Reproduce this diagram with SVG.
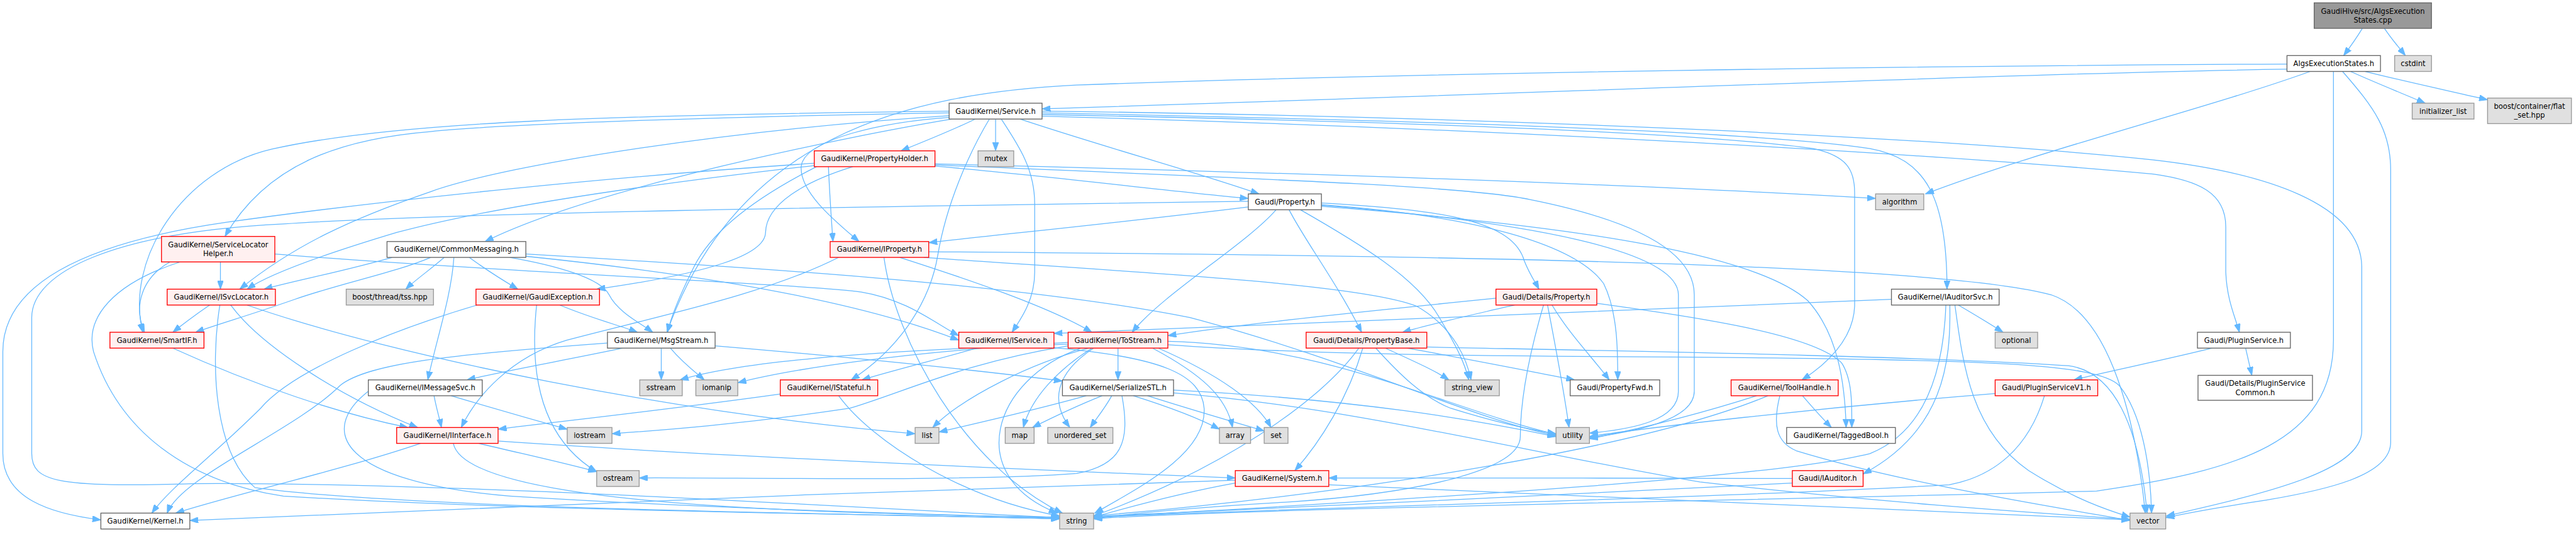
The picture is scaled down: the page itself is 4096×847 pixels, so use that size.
<svg xmlns="http://www.w3.org/2000/svg" width="4096" height="847" viewBox="0 0 4096 847">
<defs>
<style>
.r{fill:#fff0f0;stroke:#ff0000;stroke-width:1.5}
.w{fill:#ffffff;stroke:#666666;stroke-width:1.5}
.g{fill:#e0e0e0;stroke:#999999;stroke-width:1.5}
.m{fill:#999999;stroke:#666666;stroke-width:1.5}
text{font-family:"DejaVu Sans","Liberation Sans",sans-serif;font-size:12.8px;text-anchor:middle;fill:#000000}
#edges path{fill:none;stroke:#63b8ff;stroke-width:1.4;marker-end:url(#arr)}
</style>
<marker id="arr" markerUnits="userSpaceOnUse" markerWidth="16" markerHeight="11" refX="15" refY="5.5" orient="auto">
<path d="M0,0 L15,5.5 L0,11 z" fill="#63b8ff" stroke="#63b8ff" stroke-width="1"/>
</marker>
</defs>
<rect x="0" y="0" width="4096" height="847" fill="#ffffff"/>
<g transform="scale(0.901)">
<g id="edges">
<path d="M4169,50 C4158,68 4148,82 4136,98"/>
<path d="M4208,50 C4220,68 4232,82 4245,98"/>
<path d="M4036,122 C3600,128 2700,165 1839,192"/>
<path d="M4036,113 C3400,116 2500,128 1900,150 C1600,165 1300,240 1177,586"/>
<path d="M4077,126 C3900,190 3600,265 3398,342"/>
<path d="M4148,126 C4190,145 4240,165 4280,182"/>
<path d="M4174,126 C4250,145 4330,162 4390,176"/>
<path d="M4118,126 L4118,600 C4118,780 3950,830 3700,866 C3000,885 2200,897 1930,915"/>
<path d="M4134,126 C4190,190 4219,230 4219,300 L4219,780 C4219,840 4100,865 4000,882 C3900,897 3860,905 3822,913"/>
<path d="M1675,199 C1300,205 900,218 760,232 C600,245 470,290 397,417"/>
<path d="M1675,196 C1100,203 700,213 480,263 C320,300 220,460 252,586"/>
<path d="M1675,204 C1300,228 900,288 760,338 C620,386 520,432 423,510"/>
<path d="M1680,210 C1500,240 1050,330 856,426"/>
<path d="M1675,207 C1560,215 1420,245 1414,293 C1410,340 1480,395 1516,426"/>
<path d="M1721,210 C1680,230 1630,250 1590,266"/>
<path d="M1757,210 L1757,266"/>
<path d="M1767,210 C1800,260 1826,300 1826,360 L1826,480 C1826,530 1800,565 1786,586"/>
<path d="M1746,210 C1710,270 1670,360 1655,450 C1640,540 1580,620 1502,670"/>
<path d="M1800,210 C1950,260 2100,300 2222,342"/>
<path d="M1839,199 C2500,212 3100,232 3300,262 C3400,280 3436,350 3436,510"/>
<path d="M1839,202 C2500,215 3000,234 3200,262 C3260,275 3273,300 3273,340 L3273,540 C3271,600 3220,645 3180,670"/>
<path d="M1839,196 C2600,205 3400,240 3800,282 C4000,305 4166,360 4168,470 L4168,760 C4168,830 4000,870 3823,910"/>
<path d="M1839,205 C2600,225 3400,270 3800,307 C3880,318 3928,340 3928,400 L3928,480 C3930,530 3945,560 3952,586"/>
<path d="M1462,294 C1464,340 1467,385 1470,426"/>
<path d="M1650,293 C1850,310 2050,336 2203,350"/>
<path d="M1650,289 C2300,305 2900,326 3310,350"/>
<path d="M1437,288 C1100,310 700,350 400,392 C150,428 5,500 5,620 L5,800 C5,880 90,906 178,917"/>
<path d="M1437,292 C1100,330 850,370 700,410 C600,440 480,480 436,510"/>
<path d="M1441,294 C1350,340 1260,400 1225,470 C1200,520 1185,555 1178,586"/>
<path d="M1505,294 C1420,320 1352,360 1351,410 C1350,450 1250,482 1053,510"/>
<path d="M1650,291 C2300,318 2600,330 2700,352 C2900,392 2990,450 2990,520 L2990,690 C2990,742 2880,762 2805,772"/>
<path d="M389,462 L389,510"/>
<path d="M300,462 C250,490 235,540 255,586"/>
<path d="M485,448 C800,475 1400,500 1520,515 C1600,528 1650,570 1692,592"/>
<path d="M318,462 C200,500 150,560 165,620 C210,760 330,850 500,875 C900,900 1500,906 1870,915"/>
<path d="M784,454 C760,475 735,492 716,510"/>
<path d="M692,454 C600,480 520,495 466,510"/>
<path d="M828,454 C850,470 880,490 914,510"/>
<path d="M801,454 C797,520 770,600 755,670"/>
<path d="M900,454 C980,468 1060,490 1075,520 C1090,550 1130,570 1152,586"/>
<path d="M760,454 C700,480 600,500 520,528 C440,556 390,570 345,586"/>
<path d="M928,448 C1300,470 1800,500 2100,560 C2400,640 2600,740 2746,768"/>
<path d="M928,452 C1200,480 1500,525 1692,600"/>
<path d="M1588,454 C1700,490 1850,540 1927,586"/>
<path d="M1630,454 C2000,480 2400,500 2500,540 C2570,580 2590,640 2596,670"/>
<path d="M1639,444 C2400,450 3400,460 3620,520 C3740,560 3775,800 3786,905"/>
<path d="M1480,454 C1350,520 1150,560 1000,600 C900,630 840,700 814,754"/>
<path d="M1560,454 C1580,600 1700,820 1875,905"/>
<path d="M2332,358 C2550,370 2670,390 2690,460 C2700,485 2708,495 2716,510"/>
<path d="M2275,370 C2300,420 2360,500 2403,586"/>
<path d="M2295,370 C2400,430 2500,490 2540,560 C2570,610 2585,640 2592,670"/>
<path d="M2332,361 C2600,380 2780,430 2830,500 C2855,550 2855,620 2855,670"/>
<path d="M2332,362 C2700,392 2962,442 2962,520 L2962,690 C2962,742 2880,757 2805,764"/>
<path d="M2332,364 C2800,400 3100,450 3190,530 C3245,590 3256,680 3258,754"/>
<path d="M2252,370 C2200,430 2050,520 1998,586"/>
<path d="M2203,365 C2000,390 1800,410 1639,428"/>
<path d="M2203,355 C1500,365 800,375 500,395 C200,410 56,480 56,560 L56,800 C56,850 100,860 340,853 C800,850 1500,895 1870,913"/>
<path d="M2673,538 C2600,555 2530,570 2475,586"/>
<path d="M2724,538 C2700,620 2683,700 2683,770 C2683,830 2500,870 2280,885 C2100,895 2000,905 1930,915"/>
<path d="M2731,538 C2745,610 2760,690 2769,754"/>
<path d="M2739,538 C2770,590 2810,630 2840,670"/>
<path d="M2640,526 C2450,545 2200,570 2061,592"/>
<path d="M2818,535 C3000,560 3200,590 3250,640 C3270,670 3268,720 3268,754"/>
<path d="M2445,614 C2490,635 2530,652 2557,670"/>
<path d="M2428,614 C2470,660 2510,700 2560,720 C2640,745 2700,758 2746,765"/>
<path d="M2483,614 C2600,635 2700,655 2779,670"/>
<path d="M2405,614 C2380,700 2330,780 2285,830"/>
<path d="M2398,614 C2330,710 2150,830 1930,910"/>
<path d="M2518,612 C2800,618 3400,628 3650,645 C3730,655 3775,750 3789,905"/>
<path d="M3456,538 C3485,555 3510,570 3535,586"/>
<path d="M3441,538 C3443,640 3430,760 3288,836"/>
<path d="M3338,528 C2900,548 2300,568 1860,588"/>
<path d="M3434,538 C3430,650 3400,760 3300,800 C3100,850 2300,890 1930,913"/>
<path d="M3450,538 C3465,650 3480,760 3580,830 C3660,880 3720,900 3759,912"/>
<path d="M3963,614 L3974,662"/>
<path d="M3904,614 C3820,635 3720,655 3660,670"/>
<path d="M3608,698 C3580,790 3520,840 3440,855 C3000,880 2300,895 1930,912"/>
<path d="M3521,694 C3200,720 2900,755 2805,770"/>
<path d="M3181,698 C3200,720 3215,737 3232,754"/>
<path d="M3141,698 C3128,750 3135,780 3170,795 C3350,850 3600,890 3759,918"/>
<path d="M3100,698 C3000,730 2900,755 2805,774"/>
<path d="M3120,698 C2900,790 2400,870 1930,910"/>
<path d="M1099,614 C1000,635 900,652 824,670"/>
<path d="M1167,614 L1167,670"/>
<path d="M1183,614 C1205,640 1225,655 1243,670"/>
<path d="M1072,605 C800,625 650,640 600,680 C520,760 320,840 295,905"/>
<path d="M1262,610 C1500,630 1700,650 1875,672"/>
<path d="M988,538 C1040,560 1090,573 1125,586"/>
<path d="M947,538 C935,650 950,770 1053,832"/>
<path d="M842,538 C700,580 520,650 460,720 C380,800 300,860 268,905"/>
<path d="M766,698 C770,720 775,735 779,754"/>
<path d="M796,698 C870,720 940,740 1001,757"/>
<path d="M650,690 C560,760 600,850 900,875 C1300,900 1700,908 1870,914"/>
<path d="M1377,695 C1200,720 1000,742 879,757"/>
<path d="M1480,698 C1540,780 1700,880 1870,910"/>
<path d="M1724,614 C1650,635 1570,655 1521,670"/>
<path d="M1859,613 C2050,630 2120,660 2125,720 C2130,800 2010,860 1932,905"/>
<path d="M1973,614 L1973,670"/>
<path d="M1922,614 C1820,640 1700,700 1646,754"/>
<path d="M1927,614 C1870,650 1820,700 1806,754"/>
<path d="M1930,614 C1860,660 1855,710 1888,754"/>
<path d="M2034,614 C2120,660 2165,700 2175,754"/>
<path d="M2044,614 C2150,660 2220,710 2243,754"/>
<path d="M1908,614 C1750,670 1700,840 1866,905"/>
<path d="M1885,604 C1600,620 1400,650 1302,675"/>
<path d="M1885,610 C1700,640 1600,690 1500,720 C1300,750 1150,760 1080,765"/>
<path d="M1885,607 C1500,620 1300,640 1200,670"/>
<path d="M2061,602 C2350,610 2550,720 2746,766"/>
<path d="M2061,608 C2300,625 2600,628 3000,630 C3500,635 3700,640 3740,680 C3780,730 3795,820 3797,905"/>
<path d="M1917,698 C1820,725 1730,745 1657,762"/>
<path d="M1945,698 C1890,720 1850,740 1822,754"/>
<path d="M1962,698 C1950,720 1935,738 1924,754"/>
<path d="M1980,698 C1995,780 1980,820 1900,835 C1700,850 1300,842 1128,843"/>
<path d="M2000,698 C2070,720 2120,740 2152,757"/>
<path d="M2025,698 C2110,725 2190,748 2231,760"/>
<path d="M2071,693 C2400,720 2700,800 3000,850 C3300,885 3600,905 3759,916"/>
<path d="M2071,688 C2400,705 2600,740 2746,770"/>
<path d="M845,782 C920,800 990,815 1053,832"/>
<path d="M742,782 C600,830 420,870 310,905"/>
<path d="M879,778 C1200,800 1600,820 2180,843"/>
<path d="M800,782 C820,880 1300,905 1870,912"/>
<path d="M305,614 C450,680 600,730 720,754"/>
<path d="M370,538 C345,555 325,570 305,586"/>
<path d="M407,538 C460,610 600,700 737,754"/>
<path d="M436,538 C700,630 1200,730 1615,765"/>
<path d="M388,538 C370,650 380,800 450,860 C700,895 1400,905 1870,915"/>
<path d="M2180,852 C2080,870 1990,895 1930,912"/>
<path d="M2180,847 C1600,865 800,895 335,918"/>
<path d="M2345,855 C2900,880 3500,905 3759,917"/>
<path d="M3163,844 C2900,843 2600,843 2345,843"/>
<path d="M3163,852 C2800,870 2300,895 1930,911"/>
</g>
<g id="n-cpp"><rect class="m" x="4084" y="5" width="207" height="45"/><text x="4187.5" y="24">GaudiHive/src/AlgsExecution</text><text x="4187.5" y="40">States.cpp</text></g>
<g id="n-aesh"><rect class="w" x="4036" y="98" width="165" height="28"/><text x="4118.5" y="116.5">AlgsExecutionStates.h</text></g>
<g id="n-cstdint"><rect class="g" x="4226" y="98" width="65" height="28"/><text x="4258.5" y="116.5">cstdint</text></g>
<g id="n-svc"><rect class="w" x="1675" y="182" width="164" height="28"/><text x="1757" y="200.5">GaudiKernel/Service.h</text></g>
<g id="n-initl"><rect class="g" x="4257" y="182" width="109" height="28"/><text x="4311.5" y="200.5">initializer_list</text></g>
<g id="n-flatset"><rect class="g" x="4390" y="173" width="148" height="45"/><text x="4464" y="192">boost/container/flat</text><text x="4464" y="208">_set.hpp</text></g>
<g id="n-ph"><rect class="r" x="1437" y="266" width="213" height="28"/><text x="1543.5" y="284.5">GaudiKernel/PropertyHolder.h</text></g>
<g id="n-mutex"><rect class="g" x="1726" y="266" width="63" height="28"/><text x="1757.5" y="284.5">mutex</text></g>
<g id="n-prop"><rect class="w" x="2203" y="342" width="129" height="28"/><text x="2267.5" y="360.5">Gaudi/Property.h</text></g>
<g id="n-algo"><rect class="g" x="3310" y="342" width="85" height="28"/><text x="3352.5" y="360.5">algorithm</text></g>
<g id="n-slh"><rect class="r" x="285" y="417" width="200" height="45"/><text x="385" y="436">GaudiKernel/ServiceLocator</text><text x="385" y="452">Helper.h</text></g>
<g id="n-cm"><rect class="w" x="683" y="426" width="245" height="28"/><text x="805.5" y="444.5">GaudiKernel/CommonMessaging.h</text></g>
<g id="n-iprop"><rect class="r" x="1465" y="426" width="174" height="28"/><text x="1552" y="444.5">GaudiKernel/IProperty.h</text></g>
<g id="n-isvcloc"><rect class="r" x="295" y="510" width="191" height="28"/><text x="390.5" y="528.5">GaudiKernel/ISvcLocator.h</text></g>
<g id="n-tss"><rect class="g" x="611" y="510" width="154" height="28"/><text x="688" y="528.5">boost/thread/tss.hpp</text></g>
<g id="n-gexc"><rect class="r" x="840" y="510" width="218" height="28"/><text x="949" y="528.5">GaudiKernel/GaudiException.h</text></g>
<g id="n-dprop"><rect class="r" x="2640" y="510" width="178" height="28"/><text x="2729" y="528.5">Gaudi/Details/Property.h</text></g>
<g id="n-iasvc"><rect class="w" x="3338" y="510" width="190" height="28"/><text x="3433" y="528.5">GaudiKernel/IAuditorSvc.h</text></g>
<g id="n-smartif"><rect class="r" x="194" y="586" width="166" height="28"/><text x="277" y="604.5">GaudiKernel/SmartIF.h</text></g>
<g id="n-msg"><rect class="w" x="1072" y="586" width="190" height="28"/><text x="1167" y="604.5">GaudiKernel/MsgStream.h</text></g>
<g id="n-iservice"><rect class="r" x="1692" y="586" width="168" height="28"/><text x="1776" y="604.5">GaudiKernel/IService.h</text></g>
<g id="n-tostream"><rect class="r" x="1885" y="586" width="176" height="28"/><text x="1973" y="604.5">GaudiKernel/ToStream.h</text></g>
<g id="n-pbase"><rect class="r" x="2305" y="586" width="213" height="28"/><text x="2411.5" y="604.5">Gaudi/Details/PropertyBase.h</text></g>
<g id="n-optional"><rect class="g" x="3521" y="586" width="75" height="28"/><text x="3558.5" y="604.5">optional</text></g>
<g id="n-plugsvc"><rect class="w" x="3878" y="586" width="164" height="28"/><text x="3960" y="604.5">Gaudi/PluginService.h</text></g>
<g id="n-imsg"><rect class="w" x="650" y="670" width="201" height="28"/><text x="750.5" y="688.5">GaudiKernel/IMessageSvc.h</text></g>
<g id="n-sstream"><rect class="g" x="1129" y="670" width="75" height="28"/><text x="1166.5" y="688.5">sstream</text></g>
<g id="n-iomanip"><rect class="g" x="1228" y="670" width="74" height="28"/><text x="1265" y="688.5">iomanip</text></g>
<g id="n-istateful"><rect class="r" x="1377" y="670" width="172" height="28"/><text x="1463" y="688.5">GaudiKernel/IStateful.h</text></g>
<g id="n-sstl"><rect class="w" x="1875" y="670" width="196" height="28"/><text x="1973" y="688.5">GaudiKernel/SerializeSTL.h</text></g>
<g id="n-sview"><rect class="g" x="2550" y="670" width="96" height="28"/><text x="2598" y="688.5">string_view</text></g>
<g id="n-pfwd"><rect class="w" x="2771" y="670" width="158" height="28"/><text x="2850" y="688.5">Gaudi/PropertyFwd.h</text></g>
<g id="n-toolh"><rect class="r" x="3055" y="670" width="189" height="28"/><text x="3149.5" y="688.5">GaudiKernel/ToolHandle.h</text></g>
<g id="n-plugv1"><rect class="r" x="3521" y="670" width="181" height="28"/><text x="3611.5" y="688.5">Gaudi/PluginServiceV1.h</text></g>
<g id="n-plugcommon"><rect class="w" x="3879" y="662" width="202" height="44"/><text x="3980" y="680.5">Gaudi/Details/PluginService</text><text x="3980" y="696.5">Common.h</text></g>
<g id="n-iiface"><rect class="r" x="700" y="754" width="179" height="28"/><text x="789.5" y="772.5">GaudiKernel/IInterface.h</text></g>
<g id="n-iostream"><rect class="g" x="1001" y="754" width="79" height="28"/><text x="1040.5" y="772.5">iostream</text></g>
<g id="n-list"><rect class="g" x="1615" y="754" width="42" height="28"/><text x="1636" y="772.5">list</text></g>
<g id="n-map"><rect class="g" x="1774" y="754" width="51" height="28"/><text x="1799.5" y="772.5">map</text></g>
<g id="n-uset"><rect class="g" x="1849" y="754" width="115" height="28"/><text x="1906.5" y="772.5">unordered_set</text></g>
<g id="n-array"><rect class="g" x="2152" y="754" width="55" height="28"/><text x="2179.5" y="772.5">array</text></g>
<g id="n-set"><rect class="g" x="2231" y="754" width="42" height="28"/><text x="2252" y="772.5">set</text></g>
<g id="n-utility"><rect class="g" x="2746" y="754" width="59" height="28"/><text x="2775.5" y="772.5">utility</text></g>
<g id="n-tbool"><rect class="w" x="3153" y="754" width="192" height="28"/><text x="3249" y="772.5">GaudiKernel/TaggedBool.h</text></g>
<g id="n-ostream"><rect class="g" x="1053" y="830" width="75" height="28"/><text x="1090.5" y="848.5">ostream</text></g>
<g id="n-system"><rect class="r" x="2180" y="830" width="165" height="28"/><text x="2262.5" y="848.5">GaudiKernel/System.h</text></g>
<g id="n-iaud"><rect class="r" x="3163" y="830" width="125" height="28"/><text x="3225.5" y="848.5">Gaudi/IAuditor.h</text></g>
<g id="n-kernel"><rect class="w" x="178" y="905" width="157" height="28"/><text x="256.5" y="923.5">GaudiKernel/Kernel.h</text></g>
<g id="n-string"><rect class="g" x="1870" y="905" width="60" height="28"/><text x="1900" y="923.5">string</text></g>
<g id="n-vector"><rect class="g" x="3759" y="905" width="63" height="28"/><text x="3790.5" y="923.5">vector</text></g>
</g>
</svg>
